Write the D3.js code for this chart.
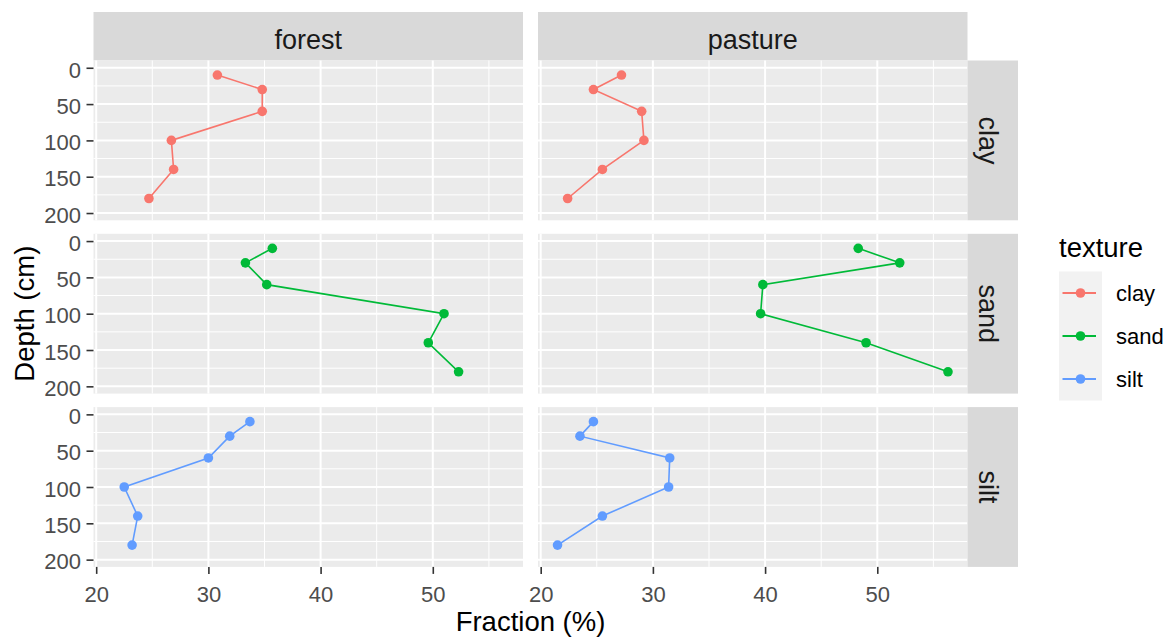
<!DOCTYPE html>
<html>
<head>
<meta charset="utf-8">
<script src="https://cdn.jsdelivr.net/npm/d3@7"></script>
<style>
    body { margin: 0; background: #fff; }
    svg { display: block; }
    text { font-family: "Liberation Sans", Arial, sans-serif; }
</style>
</head>
<body>
<svg id="chart" width="1168" height="637"></svg>
<script>
// data
const landuses = ['forest', 'pasture'];
const textures = ['clay', 'sand', 'silt'];
const depths = [10, 30, 60, 100, 140, 180];

const forestClay  = [30.8, 34.8, 34.8, 26.7, 26.9, 24.7];
const forestSand  = [35.7, 33.3, 35.2, 51.0, 49.6, 52.3];
const forestSilt  = [33.7, 31.9, 30.0, 22.5, 23.7, 23.2];
const pastureClay = [27.2, 24.7, 29.0, 29.2, 25.5, 22.4];
const pastureSand = [48.3, 52.0, 39.8, 39.6, 49.0, 56.3];
const pastureSilt = [24.7, 23.5, 31.5, 31.4, 25.5, 21.5];

const xTicks = [20, 30, 40, 50];
const xMinor = [25, 35, 45, 55];
const yTicks = [0, 50, 100, 150, 200];
const yMinor = [25, 75, 125, 175];

const seriesValues = {
    forest:  { clay: forestClay,  sand: forestSand,  silt: forestSilt },
    pasture: { clay: pastureClay, sand: pastureSand, silt: pastureSilt }
};
const colors = { clay: '#F8766D', sand: '#00BA38', silt: '#619CFF' };

// layout
const panelLeft = 93.5, panelTop = 60.5;
const panelW = 429.5, panelH = 159.8;
const colGap = 15, rowGap = 13.5;
const stripTop = 12, stripRightW = 50.5;

const svg = d3.select('#chart');

// x scale with ggplot-style 5% expansion
const allX = [forestClay, forestSand, forestSilt, pastureClay, pastureSand, pastureSilt].flat();
const xMin = d3.min(allX), xMax = d3.max(allX);
const pad = (xMax - xMin) * 0.05;
const x = d3.scaleLinear().domain([xMin - pad, xMax + pad]).range([0, panelW]);
const y = d3.scaleLinear().domain([-10, 210]).range([0, panelH]);

const line = d3.line().x(d => x(d.v)).y(d => y(d.depth));

landuses.forEach((lu, ci) => {
    const px = panelLeft + ci * (panelW + colGap);

    // top strip
    svg.append('rect')
        .attr('x', px).attr('y', stripTop)
        .attr('width', panelW).attr('height', panelTop - stripTop)
        .attr('fill', '#D9D9D9');
    svg.append('text')
        .attr('x', px + panelW / 2).attr('y', 49)
        .attr('text-anchor', 'middle')
        .attr('font-size', 27).attr('fill', '#1A1A1A')
        .text(lu);

    textures.forEach((tx, ri) => {
        const py = panelTop + ri * (panelH + rowGap);
        const g = svg.append('g').attr('transform', `translate(${px},${py})`);

        g.append('rect').attr('width', panelW).attr('height', panelH).attr('fill', '#EBEBEB');

        // minor grid
        g.selectAll('.xminor').data(xMinor).join('line')
            .attr('x1', d => x(d)).attr('x2', d => x(d))
            .attr('y1', 0).attr('y2', panelH)
            .attr('stroke', '#fff').attr('stroke-width', 1);
        g.selectAll('.yminor').data(yMinor).join('line')
            .attr('y1', d => y(d)).attr('y2', d => y(d))
            .attr('x1', 0).attr('x2', panelW)
            .attr('stroke', '#fff').attr('stroke-width', 1);
        // major grid
        g.selectAll('.xmajor').data(xTicks).join('line')
            .attr('x1', d => x(d)).attr('x2', d => x(d))
            .attr('y1', 0).attr('y2', panelH)
            .attr('stroke', '#fff').attr('stroke-width', 2);
        g.selectAll('.ymajor').data(yTicks).join('line')
            .attr('y1', d => y(d)).attr('y2', d => y(d))
            .attr('x1', 0).attr('x2', panelW)
            .attr('stroke', '#fff').attr('stroke-width', 2);

        const pts = depths.map((dep, i) => ({ depth: dep, v: seriesValues[lu][tx][i] }));
        g.append('path').datum(pts)
            .attr('d', line)
            .attr('fill', 'none')
            .attr('stroke', colors[tx])
            .attr('stroke-width', 1.6);
        g.selectAll('circle').data(pts).join('circle')
            .attr('cx', d => x(d.v)).attr('cy', d => y(d.depth))
            .attr('r', 4.8)
            .attr('fill', colors[tx]);

        // left axis
        if (ci === 0) {
            const ax = g.append('g').call(d3.axisLeft(y).tickValues(yTicks).tickSize(7).tickPadding(5.5).tickSizeOuter(0));
            ax.select('.domain').remove();
            ax.selectAll('line').attr('stroke', '#333333').attr('stroke-width', 1.6);
            ax.selectAll('text').attr('font-size', 22).attr('fill', '#4D4D4D')
                .attr('font-family', '"Liberation Sans", Arial, sans-serif').attr('dy', '0.42em');
        }
        // bottom axis
        if (ri === textures.length - 1) {
            const ax = g.append('g').attr('transform', `translate(0,${panelH})`)
                .call(d3.axisBottom(x).tickValues(xTicks).tickSize(7).tickPadding(12).tickSizeOuter(0));
            ax.select('.domain').remove();
            ax.selectAll('line').attr('stroke', '#333333').attr('stroke-width', 1.6);
            ax.selectAll('text').attr('font-size', 22).attr('fill', '#4D4D4D')
                .attr('font-family', '"Liberation Sans", Arial, sans-serif');
        }

        // right strip
        if (ci === landuses.length - 1) {
            const sx = px + panelW;
            svg.append('rect')
                .attr('x', sx).attr('y', py)
                .attr('width', stripRightW).attr('height', panelH)
                .attr('fill', '#D9D9D9');
            svg.append('text')
                .attr('transform', `translate(${sx + 11.5},${py + panelH / 2}) rotate(90)`)
                .attr('text-anchor', 'middle')
                .attr('font-size', 27).attr('fill', '#1A1A1A')
                .text(tx);
        }
    });
});

// axis titles
const plotBottom = panelTop + 3 * panelH + 2 * rowGap;
svg.append('text')
    .attr('x', panelLeft + panelW + colGap / 2).attr('y', 631)
    .attr('text-anchor', 'middle').attr('font-size', 27.5).attr('fill', '#000')
    .text('Fraction (%)');
svg.append('text')
    .attr('transform', `translate(34,${(panelTop + plotBottom) / 2}) rotate(-90)`)
    .attr('text-anchor', 'middle').attr('font-size', 27.5).attr('fill', '#000')
    .text('Depth (cm)');

// legend
const legX = 1059, legY = 271.5, keyW = 43, keyH = 43;
svg.append('text')
    .attr('x', legX).attr('y', 257)
    .attr('font-size', 27.5).attr('fill', '#000')
    .text('texture');
svg.append('rect')
    .attr('x', legX).attr('y', legY)
    .attr('width', keyW).attr('height', keyH * textures.length)
    .attr('fill', '#F2F2F2');
textures.forEach((tx, i) => {
    const cy = legY + keyH * i + keyH / 2;
    svg.append('line')
        .attr('x1', legX + 3.5).attr('x2', legX + keyW - 6)
        .attr('y1', cy).attr('y2', cy)
        .attr('stroke', colors[tx]).attr('stroke-width', 2);
    svg.append('circle')
        .attr('cx', legX + keyW / 2).attr('cy', cy).attr('r', 4.8)
        .attr('fill', colors[tx]);
    svg.append('text')
        .attr('x', 1116).attr('y', cy + 8)
        .attr('font-size', 22).attr('fill', '#000')
        .text(tx);
});
</script>
</body>
</html>
